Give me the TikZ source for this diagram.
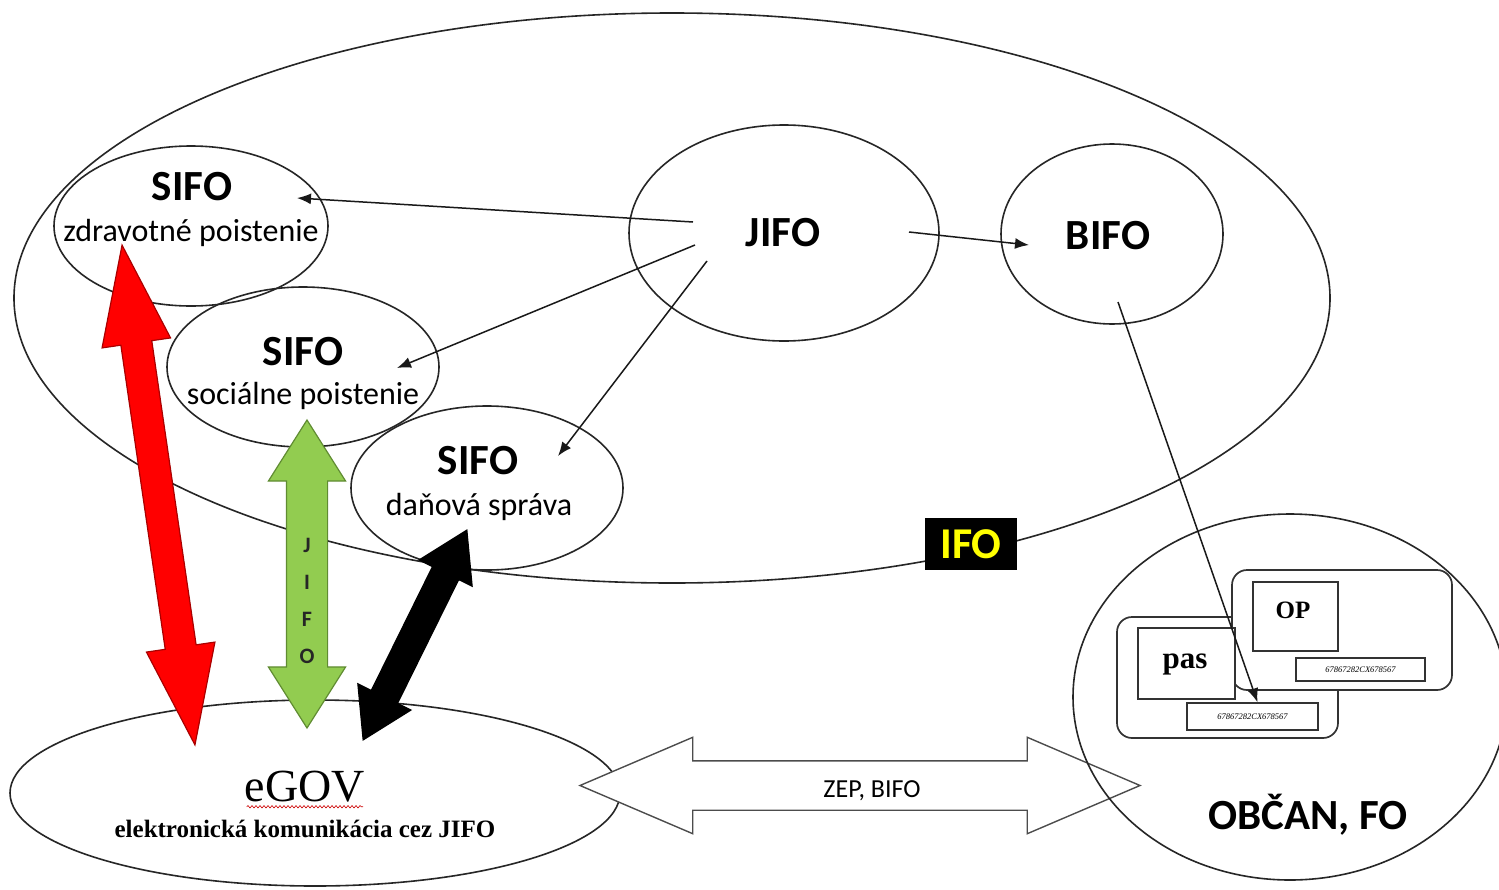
\documentclass[tikz,border=0pt]{standalone}
\usepackage{fontspec}
\newfontfamily\calfont{Carlito}
\newfontfamily\timesfont{Liberation Serif}
\usetikzlibrary{shapes.geometric,shapes.arrows,arrows.meta,decorations.pathmorphing}
\definecolor{gfill}{RGB}{146,204,80}
\definecolor{gline}{RGB}{96,140,50}
\definecolor{rline}{RGB}{170,0,0}
\definecolor{ifoyellow}{RGB}{255,255,0}
\begin{document}
\begin{tikzpicture}[x=1pt,y=-1pt,
  ell/.style={ellipse, draw=black!85, line width=1.6pt, inner sep=0pt},
  conn/.style={draw=black!90, line width=1.5pt, -{Latex[length=14pt,width=11pt]}},
  bigtxt/.style={font=\calfont\bfseries\fontsize{43}{50}\selectfont, inner sep=0pt},
  subtxt/.style={font=\calfont\fontsize{32}{38}\selectfont, inner sep=0pt},
  blockarrow/.style={double arrow, inner xsep=0pt, line width=1.2pt},
  box/.style={draw=black!80, line width=1.4pt, inner sep=0pt, fill=white},
  card/.style={box, rounded corners=15pt, line width=1.7pt},
  bartxt/.style={font=\timesfont\itshape\fontsize{8.5}{10}\selectfont, inner sep=0pt}
]
\useasboundingbox (0,0) rectangle (1499,889);
\fill[white] (0,0) rectangle (1499,889);

% big IFO ellipse
\node[ell, minimum width=1316pt, minimum height=570pt] (ifo) at (672,298) {};

% SIFO ellipses
\node[ell, minimum width=274pt, minimum height=160pt] (s1) at (191,226) {};
\node[ell, minimum width=272pt, minimum height=160pt] (s2) at (303,367) {};
\node[ell, minimum width=272pt, minimum height=164pt] (s3) at (487,488) {};
\node[ell, minimum width=310pt, minimum height=216pt] (jifo) at (784,233) {};
\node[ell, minimum width=222pt, minimum height=180pt] (bifo) at (1112,234) {};

\node[bigtxt] (s1a) at (192,187) {SIFO};
\node[subtxt] (s1b) at (191,233) {zdravotné poistenie};
\node[bigtxt] (s2a) at (303,352) {SIFO};
\node[subtxt] (s2b) at (303,396) {sociálne poistenie};
\node[bigtxt] (s3a) at (478,461) {SIFO};
\node[subtxt] (s3b) at (479,507) {daňová správa};
\node[bigtxt] (jifot) at (783,233) {JIFO};
\node[bigtxt] (bifot) at (1108,236) {BIFO};

% IFO label
\node[fill=black, minimum width=92pt, minimum height=52pt, inner sep=0pt,
      text=ifoyellow, font=\calfont\bfseries\fontsize{44}{50}\selectfont] (ifol) at (971,544) {IFO};

% JIFO connectors
\draw[conn] ([shift={(-91,-11)}]jifo.center) -- ([shift={(106,-28)}]s1.center);
\draw[conn] ([shift={(-89,12)}]jifo.center) -- ([shift={(94,1)}]s2.center);
\draw[conn] ([shift={(-77,28)}]jifo.center) -- ([shift={(71,-32)}]s3.center);
\draw[conn] ([shift={(125,-1)}]jifo.center) -- ([shift={(-83,11)}]bifo.center);

% eGOV ellipse
\node[ell, minimum width=610pt, minimum height=186pt] (egov) at (315,793) {};

% block arrows
\node[blockarrow, fill=red, draw=rline, minimum height=505pt, inner ysep=15pt,
      double arrow head extend=19pt, double arrow tip angle=38.6, rotate=-81.7] (redarr) at (158.5,495) {};
\node[blockarrow, fill=gfill, draw=gline, minimum height=308pt, inner ysep=20pt,
      double arrow head extend=18pt, double arrow tip angle=64.6, rotate=90] (grnarr) at (307,574) {};
\node[blockarrow, fill=black, draw=black, minimum height=234pt, inner ysep=14pt,
      double arrow head extend=15pt, double arrow tip angle=63.4, rotate=63.7] (blkarr) at (415,635) {};
\node[font=\calfont\bfseries\fontsize{22}{37}\selectfont, align=center, text=black!85, inner sep=0pt]
      (jifov) at (307,601) {J\\I\\F\\O};

% eGOV texts
\node[font=\timesfont\fontsize{46}{50}\selectfont, inner sep=0pt] (egovt) at (305,787) {eGOV};
\draw[red!80!black, line width=0.6pt, decorate, decoration={snake, amplitude=1.2pt, segment length=4pt}]
  ([shift={(2,4)}]egovt.south west) -- ([shift={(-2,4)}]egovt.south east);
\node[font=\timesfont\bfseries\fontsize{25}{30}\selectfont, inner sep=0pt] (egovs) at (305,829) {elektronická komunikácia cez JIFO};

% ZEP arrow
\node[blockarrow, fill=white, draw=black!70, line width=1.4pt, minimum height=560pt, inner ysep=24pt,
      double arrow head extend=23.5pt, double arrow tip angle=46.3] (zep) at (860,785.5) {};
\node[font=\calfont\fontsize{26}{30}\selectfont, inner sep=0pt] (zept) at (872,791) {ZEP, BIFO};

% OBCAN
\node[ell, minimum width=434pt, minimum height=366pt] (obcan) at (1290,697) {};
\node[bigtxt] (obcant) at (1308,815) {OBČAN, FO};

% cards
\node[card, minimum width=221pt, minimum height=121pt] (pascard) at (1227.5,677.5) {};
\node[card, minimum width=220pt, minimum height=120pt] (opcard) at (1342,630) {};
\node[box, minimum width=85pt, minimum height=69pt] (opbox) at (1295.5,616.5) {};
\node[font=\timesfont\bfseries\fontsize{25}{30}\selectfont, inner sep=0pt] (opt) at (1293,610) {OP};
\node[box, minimum width=129pt, minimum height=23pt] (opbar) at (1360.5,669.5) {};
\node[bartxt] (opbart) at (1360.5,669.5) {67867282CX678567};
\node[box, minimum width=97pt, minimum height=71pt] (pasbox) at (1186.5,663.5) {};
\node[font=\timesfont\bfseries\fontsize{31}{36}\selectfont, inner sep=0pt] (past) at (1185,664) {pas};
\node[box, minimum width=131pt, minimum height=27pt] (pasbar) at (1252.5,716.5) {};
\node[bartxt] (pasbart) at (1252.5,716.5) {67867282CX678567};

% BIFO -> pas
\draw[conn] ([shift={(6,68)}]bifo.center) -- ([xshift=5pt]pasbar.north);
\end{tikzpicture}
\end{document}
